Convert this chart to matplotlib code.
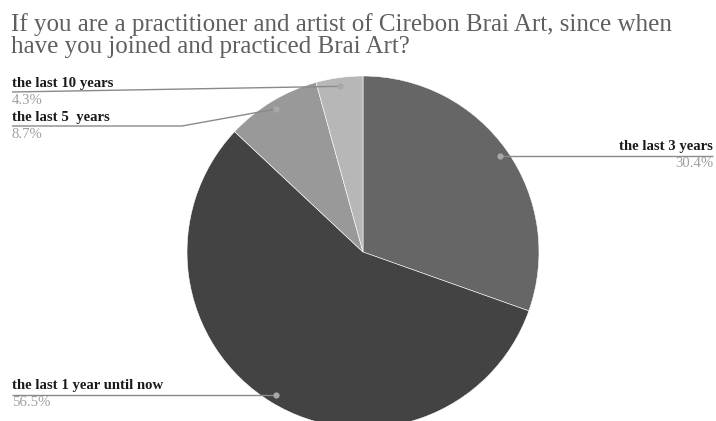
import numpy as np
import matplotlib.pyplot as plt

labels = ['the last 3 years', 'the last 1 year until now', 'the last 5  years', 'the last 10 years']
shares = [30.4, 56.5, 8.7, 4.3]
colors = ['#666666', '#434343', '#999999', '#b7b7b7']
title = 'If you are a practitioner and artist of Cirebon Brai Art, since when\nhave you joined and practiced Brai Art?'

W, H = 716, 421
fig = plt.figure(figsize=(W / 100, H / 100), dpi=100)
fig.patch.set_facecolor('white')

# pie centre at (363, 252) px from top-left, radius 176 px
cx, cy, r = 363, 252, 176
ax = fig.add_axes([(cx - r) / W, (H - cy - r) / H, 2 * r / W, 2 * r / H])
wedges, _ = ax.pie(shares, colors=colors, startangle=90, counterclock=False,
                   wedgeprops=dict(edgecolor='white', linewidth=0.4))
ax.set_xlim(-1, 1)
ax.set_ylim(-1, 1)
ax.axis('off')

# overlay in pixel coords (y down) for leader lines and labels
ov = fig.add_axes([0, 0, 1, 1], zorder=5)
ov.set_xlim(0, W)
ov.set_ylim(H, 0)
ov.axis('off')

def anchor(w):
    ang = np.deg2rad((w.theta1 + w.theta2) / 2)
    x, y = ax.transData.transform((0.95 * np.cos(ang), 0.95 * np.sin(ang)))
    return x, H - y

serif = 'Liberation Serif'
line_c = '#8a8a8a'
pct_c = '#a0a0a0'

# label layout: (line points after the dot, text x, line y, alignment)
layout = {
    0: dict(path=[(713, None)], tx=713, ty=155, ha='right'),
    1: dict(path=[(12, None)], tx=12, ty=394, ha='left'),
    2: dict(path=[(182, 126), (12, 126)], tx=12, ty=126, ha='left'),
    3: dict(path=[(12, 92)], tx=12, ty=92, ha='left'),
}

for i, w in enumerate(wedges):
    dx, dy = anchor(w)
    lay = layout[i]
    xs, ys = [dx], [dy]
    for px, py in lay['path']:
        xs.append(px)
        ys.append(dy if py is None else py)
    ov.plot(xs, ys, color=line_c, lw=1.0, solid_capstyle='butt')
    ov.plot([dx], [dy], 'o', color='#a8a8a8', ms=4.5, mec='none')
    ty = lay['ty']
    ov.text(lay['tx'], ty - 2, labels[i], ha=lay['ha'], va='bottom',
            family=serif, weight='bold', fontsize=10.6, color='#1a1a1a')
    ov.text(lay['tx'], ty + 2, f'{shares[i]}%', ha=lay['ha'], va='top',
            family=serif, fontsize=10.6, color=pct_c)

fig.text(11 / W, 1 - 13 / H, title, ha='left', va='top', family=serif,
         fontsize=18, color='#5f5f5f', linespacing=1.02)

fig.savefig('out.png', dpi=100, facecolor='white')
